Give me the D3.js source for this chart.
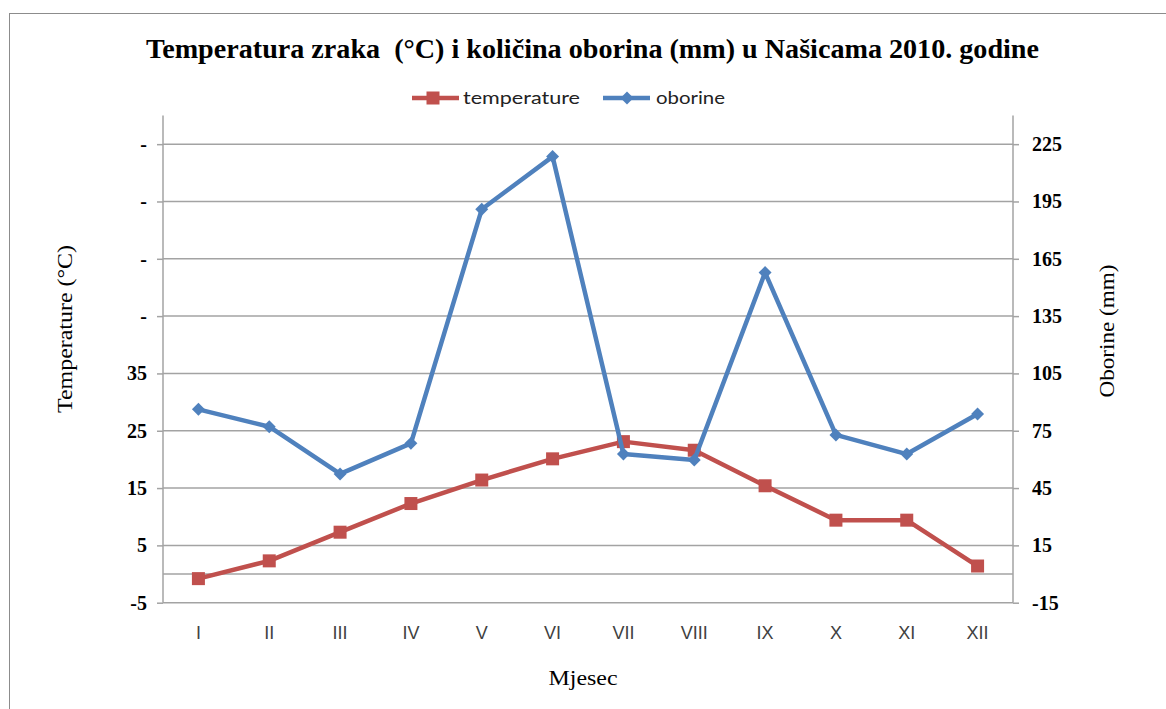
<!DOCTYPE html>
<html><head><meta charset="utf-8">
<script src="https://cdn.jsdelivr.net/npm/d3@7"></script>
<style>body{margin:0;background:#fff}svg{display:block}</style>
</head><body>
<script>
const months = ["I","II","III","IV","V","VI","VII","VIII","IX","X","XI","XII"];
const temperature = [-0.8, 2.3, 7.3, 12.3, 16.4, 20.1, 23.1, 21.6, 15.4, 9.4, 9.4, 1.4];
const oborine = [86.2, 77.1, 52.4, 68.4, 190.9, 218.5, 62.8, 59.7, 157.8, 72.8, 62.8, 83.8];
const leftTicks = [-5, 5, 15, 25, 35, 45, 55, 65, 75];
const leftTickLabels = ["-5", "5", "15", "25", "35", "-", "-", "-", "-"];
const rightTicks = [-15, 15, 45, 75, 105, 135, 165, 195, 225];
const rightTickLabels = ["-15", "15", "45", "75", "105", "135", "165", "195", "225"];
const titleText = "Temperatura zraka  (\u00B0C) i količina oborina (mm) u Našicama 2010. godine";
const seriesNames = ["temperature", "oborine"];

const W = 1166, H = 709;
const svg = d3.select("body").append("svg").attr("width", W).attr("height", H);

// chart border
svg.append("rect").attr("x", 9.5).attr("y", 13.5).attr("width", 1200).attr("height", 800)
  .attr("fill", "none").attr("stroke", "#8c8c8c").attr("stroke-width", 1);

const plot = {left: 163, right: 1013, top: 115.5, bottom: 602.7};
const x = d3.scaleBand().domain(months).range([plot.left, plot.right]);
const yL = d3.scaleLinear().domain([-5, 80]).range([plot.bottom, plot.top]);
const yR = d3.scaleLinear().domain([-15, 240]).range([plot.bottom, plot.top]);
const grid = "#a3a3a3";

// gridlines
svg.append("g").selectAll("line").data(leftTicks).join("line")
  .attr("x1", plot.left).attr("x2", plot.right)
  .attr("y1", d => yL(d)).attr("y2", d => yL(d))
  .attr("stroke", grid).attr("stroke-width", 1.5);
// category axis at 0
svg.append("line").attr("x1", plot.left).attr("x2", plot.right)
  .attr("y1", yL(0)).attr("y2", yL(0)).attr("stroke", grid).attr("stroke-width", 1.5);

// left axis
const axL = svg.append("g").attr("transform", `translate(${plot.left},0)`)
  .call(d3.axisLeft(yL).tickValues(leftTicks).tickSize(6).tickPadding(10)
    .tickFormat((d, i) => leftTickLabels[i]));
axL.select(".domain").attr("stroke", grid).attr("stroke-width", 1.5).attr("d", `M0,${plot.top}V${plot.bottom}`);
axL.selectAll(".tick line").attr("stroke", grid).attr("stroke-width", 1.5);
axL.selectAll(".tick text").attr("font-family", "Liberation Serif, Times New Roman, serif")
  .attr("font-weight", "bold").attr("font-size", 20).attr("fill", "#000");

// right axis
const axR = svg.append("g").attr("transform", `translate(${plot.right},0)`)
  .call(d3.axisRight(yR).tickValues(rightTicks).tickSize(6).tickPadding(13)
    .tickFormat((d, i) => rightTickLabels[i]));
axR.select(".domain").attr("stroke", grid).attr("stroke-width", 1.5).attr("d", `M0,${plot.top}V${plot.bottom}`);
axR.selectAll(".tick line").attr("stroke", grid).attr("stroke-width", 1.5);
axR.selectAll(".tick text").attr("font-family", "Liberation Serif, Times New Roman, serif")
  .attr("font-weight", "bold").attr("font-size", 20).attr("fill", "#000");

// category labels
const axB = svg.append("g").attr("transform", `translate(0,${plot.bottom})`)
  .call(d3.axisBottom(x).tickSize(0).tickPadding(24));
axB.select(".domain").remove();
axB.selectAll(".tick text").attr("font-family", "Liberation Sans Narrow, Arial Narrow, Liberation Sans, sans-serif")
  .attr("font-size", 18).attr("fill", "#404040");

// lines
const red = "#C0504D", blue = "#4F81BD";
const cx = i => x(months[i]) + x.bandwidth() / 2;
const lineT = d3.line().x((d, i) => cx(i)).y(d => yL(d));
const lineP = d3.line().x((d, i) => cx(i)).y(d => yR(d));

svg.append("path").attr("d", lineT(temperature)).attr("fill", "none")
  .attr("stroke", red).attr("stroke-width", 4.5).attr("stroke-linejoin", "round");
svg.append("g").selectAll("rect").data(temperature).join("rect")
  .attr("x", (d, i) => cx(i) - 6.5)
  .attr("y", d => yL(d) - 6.5).attr("width", 13).attr("height", 13).attr("fill", red);

svg.append("path").attr("d", lineP(oborine)).attr("fill", "none")
  .attr("stroke", blue).attr("stroke-width", 4.5).attr("stroke-linejoin", "round");
const diamondPath = d3.symbol().type(d3.symbolSquare).size(84);
svg.append("g").selectAll("path").data(oborine).join("path")
  .attr("transform", (d, i) => `translate(${cx(i)},${yR(d)}) rotate(45)`)
  .attr("d", diamondPath).attr("fill", blue);

// title
svg.append("text").attr("x", 592.5).attr("y", 58).attr("text-anchor", "middle")
  .attr("xml:space", "preserve").style("white-space", "pre")
  .attr("font-family", "Liberation Serif, Times New Roman, serif").attr("font-weight", "bold")
  .attr("font-size", 27).attr("textLength", 893).attr("lengthAdjust", "spacingAndGlyphs")
  .text(titleText);

// legend
const lg = svg.append("g");
lg.append("line").attr("x1", 412).attr("x2", 459).attr("y1", 98).attr("y2", 98)
  .attr("stroke", red).attr("stroke-width", 4.5);
lg.append("rect").attr("x", 426.5).attr("y", 91.5).attr("width", 13).attr("height", 13).attr("fill", red);
lg.append("text").attr("x", 463).attr("y", 104).attr("font-family", "Lato, Open Sans, sans-serif")
  .attr("font-size", 17).attr("fill", "#222").attr("textLength", 117).attr("lengthAdjust", "spacingAndGlyphs")
  .text(seriesNames[0]);
lg.append("line").attr("x1", 603).attr("x2", 650).attr("y1", 98).attr("y2", 98)
  .attr("stroke", blue).attr("stroke-width", 4.5);
lg.append("path").attr("transform", "translate(627,98) rotate(45)")
  .attr("d", diamondPath).attr("fill", blue);
lg.append("text").attr("x", 656).attr("y", 104).attr("font-family", "Lato, Open Sans, sans-serif")
  .attr("font-size", 17).attr("fill", "#222").attr("textLength", 69).attr("lengthAdjust", "spacingAndGlyphs")
  .text(seriesNames[1]);

// axis titles
svg.append("text").attr("transform", "translate(72,329) rotate(-90)").attr("text-anchor", "middle")
  .attr("font-family", "Liberation Serif, Times New Roman, serif").attr("font-size", 21)
  .attr("textLength", 168).attr("lengthAdjust", "spacingAndGlyphs")
  .text("Temperature (\u00B0C)");
svg.append("text").attr("transform", "translate(1114,331) rotate(-90)").attr("text-anchor", "middle")
  .attr("font-family", "Liberation Serif, Times New Roman, serif").attr("font-size", 21)
  .attr("textLength", 133).attr("lengthAdjust", "spacingAndGlyphs")
  .text("Oborine (mm)");
svg.append("text").attr("x", 583).attr("y", 685).attr("text-anchor", "middle")
  .attr("font-family", "Liberation Serif, Times New Roman, serif").attr("font-size", 22)
  .attr("textLength", 69).attr("lengthAdjust", "spacingAndGlyphs")
  .text("Mjesec");
</script>
</body></html>
